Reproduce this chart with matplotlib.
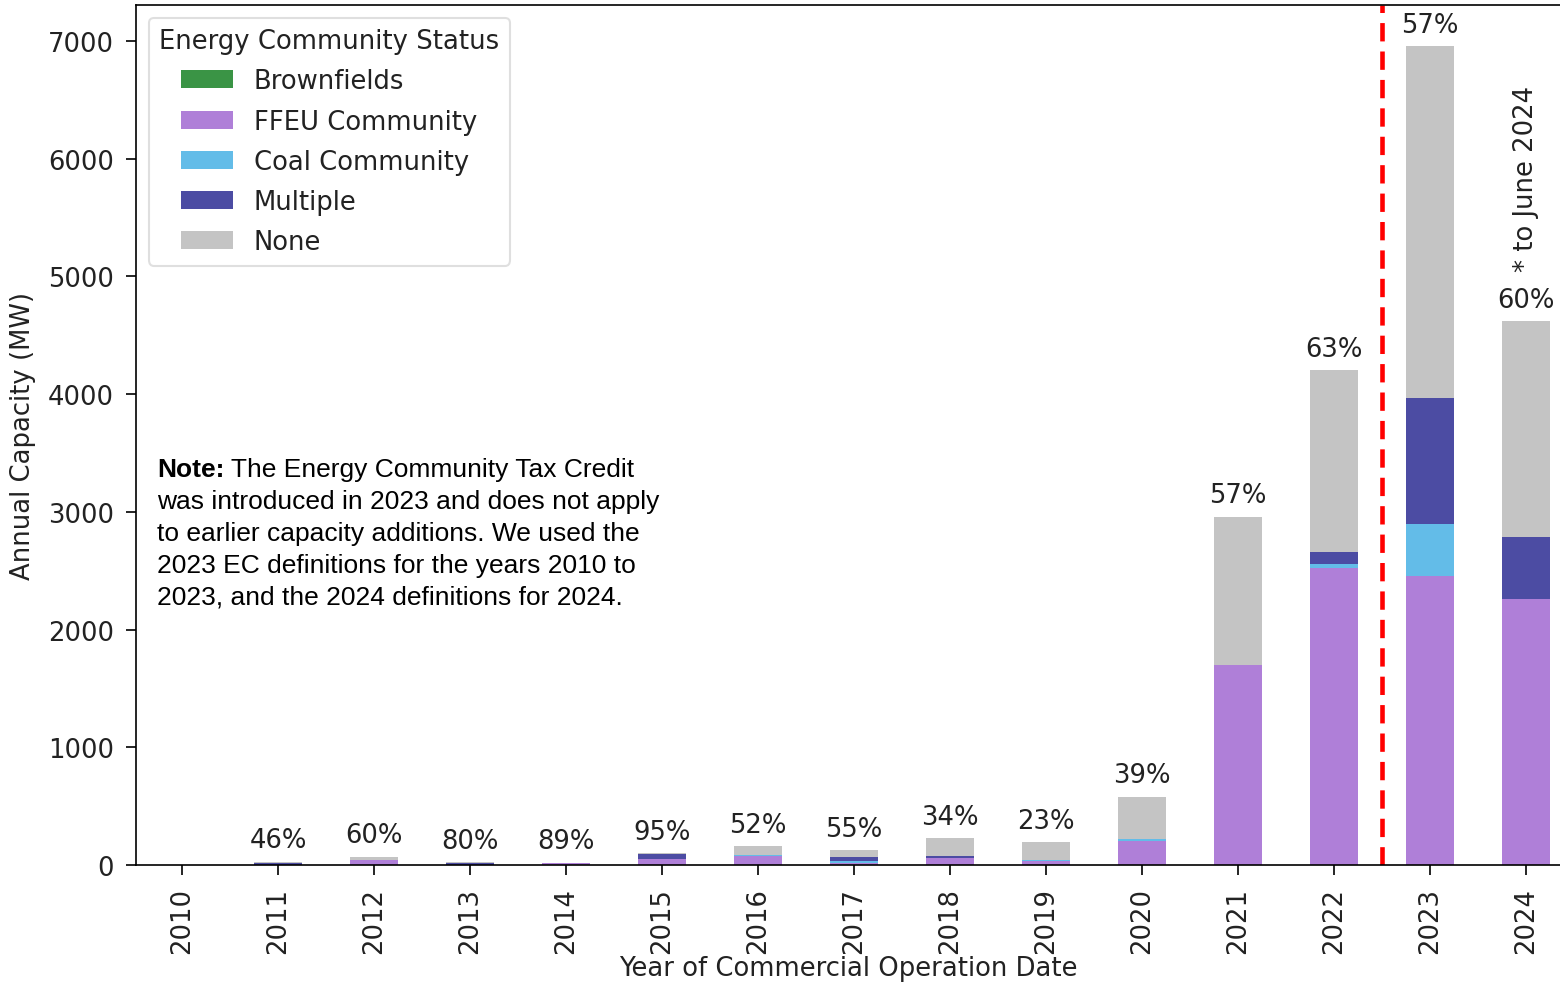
import numpy as np
import matplotlib
matplotlib.use("Agg")
import matplotlib.pyplot as plt

# capacity additions by energy community status (MW)
years = [2010, 2011, 2012, 2013, 2014, 2015, 2016, 2017, 2018, 2019, 2020, 2021, 2022, 2023, 2024]
brownfields = [0, 0, 0, 0, 0, 0, 0, 0, 0, 0, 0, 0, 0, 0, 0]
ffeu = [0, 0, 42, 0, 17, 55, 75, 15, 60, 35, 205, 1700, 2520, 2455, 2260]
coal = [0, 0, 0, 0, 0, 0, 8, 15, 0, 10, 20, 0, 35, 440, 0]
multiple = [0, 13, 0, 20, 0, 40, 0, 40, 18, 0, 0, 0, 105, 1070, 525]
none = [0, 15, 28, 5, 2, 5, 77, 58, 152, 150, 355, 1260, 1545, 2990, 1835]

series = [
    ("Brownfields", brownfields, "#3a9445"),
    ("FFEU Community", ffeu, "#af7fd8"),
    ("Coal Community", coal, "#63bce8"),
    ("Multiple", multiple, "#4c4ca3"),
    ("None", none, "#c4c4c4"),
]

plt.rcParams["font.family"] = "DejaVu Sans"
plt.rcParams["font.size"] = 12.4

fig = plt.figure(figsize=(10.4, 6.56), dpi=150)
ax = fig.add_axes([136 / 1560, 118 / 984, 1 - 136 / 1560, 860 / 984])

x = np.arange(len(years))
bottom = np.zeros(len(years))
for name, vals, col in series:
    vals = np.array(vals, dtype=float)
    ax.bar(x, vals, 0.5, bottom=bottom, color=col, label=name)
    bottom += vals

# share of capacity in any energy community
total = bottom
ec = total - np.array(none)
for i in range(1, len(years)):
    ax.annotate("%.0f%%" % (100 * ec[i] / total[i]), (x[i], total[i]),
                xytext=(0, 4), textcoords="offset points",
                ha="center", va="bottom", fontsize=12.4, color="#222222")

ax.axvline(12.5, color="red", linestyle="--", linewidth=2.2, dashes=(4, 2.2))

ax.text(14, 5050, "* to June 2024", rotation=90, ha="center", va="bottom",
        fontsize=12.4, color="#222222")

ax.set_xlim(-0.48, 14.354)
ax.set_ylim(0, 7306)
ax.set_xticks(x)
ax.set_xticklabels([str(y) for y in years], rotation=90)
ax.set_yticks(range(0, 7001, 1000))
ax.tick_params(length=5, pad=5.5, labelcolor="#222222")
ax.set_xlabel("Year of Commercial Operation Date", labelpad=1, color="#222222")
ax.set_ylabel("Annual Capacity (MW)", labelpad=6, color="#222222")
ax.spines["right"].set_visible(False)

leg = ax.legend(title="Energy Community Status", loc="upper left",
                fontsize=12.4, title_fontsize=12.4, labelspacing=0.55)
leg.get_frame().set_edgecolor("#d8d8d8")
leg.get_title().set_color("#222222")
for t in leg.get_texts():
    t.set_color("#222222")

# note text
note_font = dict(family="Liberation Sans", fontsize=12.7, color="black")
nb = fig.text(157 / 1560, 1 - 477 / 984, "Note:", fontweight="bold", va="baseline", **note_font)
ax.annotate(" The Energy Community Tax Credit", xy=(1, 0), xycoords=nb,
            va="bottom", ha="left", **note_font)
rest = ["was introduced in 2023 and does not apply",
        "to earlier capacity additions. We used the",
        "2023 EC definitions for the years 2010 to",
        "2023, and the 2024 definitions for 2024."]
for k, line in enumerate(rest):
    fig.text(157 / 1560, 1 - (477 + 32 * (k + 1)) / 984, line, va="baseline", **note_font)

fig.savefig("out.png", dpi=150)
